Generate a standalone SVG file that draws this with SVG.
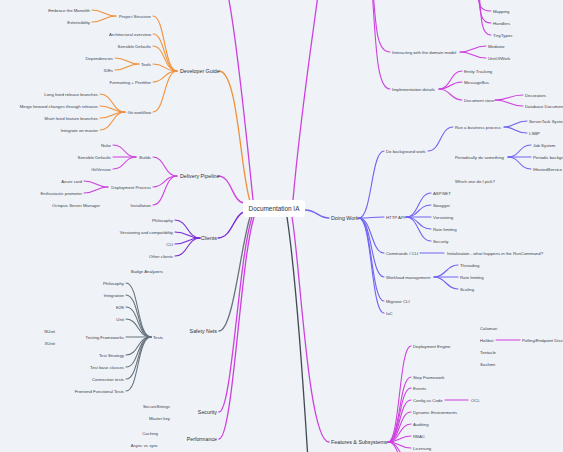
<svg xmlns="http://www.w3.org/2000/svg" width="563" height="452" viewBox="0 0 563 452">
<style>
text{font-family:"Liberation Sans",Arial,sans-serif;font-size:4.3px;fill:#3c4350}
.e{text-anchor:end}
.m{font-size:5.3px;fill:#2c323c}
.root{font-size:6.4px;fill:#2c323c;text-anchor:middle}
path{fill:none;stroke-width:1.1;stroke-linecap:round}
.or{stroke:#f0913a}
.mg{stroke:#cd40df}
.pu{stroke:#7a2ad6}
.gy{stroke:#66737f}
.dg{stroke:#3f4a55}
.bl{stroke:#6f62f2}
.main{stroke-width:1.3}
</style>
<rect width="563" height="452" fill="#eff2f6"/>
<g id="connectors">
<!-- center to branches -->
<path class="or main" d="M219,71 C238,71 240,170 250,201"/>
<path class="mg main" d="M218,176 C232,176 232,202 244,203"/>
<path class="pu main" d="M218,238 C232,238 234,214 244,212"/>
<path class="gy main" d="M219,331 C233,331 240,250 250,217"/>
<path class="mg main" d="M219,412 C232,412 238,262 252,217"/>
<path class="mg main" d="M219,439 C233,439 240,262 254,217"/>
<path class="mg main" d="M253,200 C245,120 235,30 228,-5"/>
<path class="mg main" d="M293,200 C300,120 312,40 318,-5"/>
<path class="bl main" d="M305,210 C317,210 318,218 329,218"/>
<path class="mg main" d="M292,217 C300,262 308,442 329,442"/>
<path class="dg main" d="M287,217 C295,270 303,380 308,460"/>
<!-- top right branch -->
<path class="mg" d="M373,-10 C376,30 377,52 390,52"/>
<path class="mg" d="M372,-10 C376,40 376,89 390,89"/>
<path class="mg" d="M460,52 C473,52 473,46 486,46"/>
<path class="mg" d="M460,52 C473,52 473,58 486,58"/>
<path class="mg" d="M439,89 C451,89 450,71 462,71"/>
<path class="mg" d="M439,89 C451,89 450,82 462,82"/>
<path class="mg" d="M439,89 C451,89 450,100 462,100"/>
<path class="mg" d="M495,100 C509,100 509,95 523,95"/>
<path class="mg" d="M495,100 C509,100 509,106 523,106"/>
<path class="mg" d="M477,-10 C479,6 480,11 491,11"/>
<path class="mg" d="M478,-10 C480,12 480,23 491,23"/>
<path class="mg" d="M479,-10 C481,18 481,35 491,35"/>
<!-- Developer Guide -->
<path class="or" d="M177,71 C164,71 165,16 153,16"/>
<path class="or" d="M177,71 C164,71 165,34 153,34"/>
<path class="or" d="M177,71 C164,71 165,46 153,46"/>
<path class="or" d="M177,71 C164,71 165,64 153,64"/>
<path class="or" d="M177,71 C164,71 165,82 153,82"/>
<path class="or" d="M177,71 C164,71 165,112 153,112"/>
<path class="or" d="M116,16 C104,16 104,10 92,10"/>
<path class="or" d="M116,16 C104,16 104,22 92,22"/>
<path class="or" d="M139,64 C127,64 127,58 115,58"/>
<path class="or" d="M139,64 C127,64 127,70 115,70"/>
<path class="or" d="M125,112 C112,112 113,94 100,94"/>
<path class="or" d="M125,112 C112,112 113,106 100,106"/>
<path class="or" d="M125,112 C112,112 113,118 100,118"/>
<path class="or" d="M125,112 C112,112 113,130 100,130"/>
<!-- Delivery Pipeline -->
<path class="mg" d="M177,176 C164,176 165,157 153,157"/>
<path class="mg" d="M177,176 C164,176 165,187 153,187"/>
<path class="mg" d="M177,176 C164,176 165,205 153,205"/>
<path class="mg" d="M136,157 C124,157 125,145 113,145"/>
<path class="mg" d="M136,157 L113,157"/>
<path class="mg" d="M136,157 C124,157 125,169 113,169"/>
<path class="mg" d="M108,187 C96,187 96,181 84,181"/>
<path class="mg" d="M108,187 C96,187 96,193 84,193"/>
<!-- Clients -->
<path class="pu" d="M200,238 C187,238 188,220 175,220"/>
<path class="pu" d="M200,238 C187,238 188,232 175,232"/>
<path class="pu" d="M200,238 C187,238 188,244 175,244"/>
<path class="pu" d="M200,238 C187,238 188,256 175,256"/>
<!-- Tests -->
<path class="gy" d="M151,337 C137,337 139,283 126,283"/>
<path class="gy" d="M151,337 C137,337 139,295 126,295"/>
<path class="gy" d="M151,337 C137,337 139,307 126,307"/>
<path class="gy" d="M151,337 C137,337 139,319 126,319"/>
<path class="gy" d="M151,337 L126,337"/>
<path class="gy" d="M151,337 C137,337 139,355 126,355"/>
<path class="gy" d="M151,337 C137,337 139,367 126,367"/>
<path class="gy" d="M151,337 C137,337 139,379 126,379"/>
<path class="gy" d="M151,337 C137,337 139,391 126,391"/>
<!-- Doing Work -->
<path class="bl" d="M359,218 C372,218 371,151 384,151"/>
<path class="bl" d="M359,218 C372,218 371,217 384,217"/>
<path class="bl" d="M359,218 C372,218 371,253 384,253"/>
<path class="bl" d="M359,218 C372,218 371,277 384,277"/>
<path class="bl" d="M359,218 C372,218 371,301 384,301"/>
<path class="bl" d="M359,218 C372,218 371,313 384,313"/>
<path class="bl" d="M428,151 C441,151 440,127 453,127"/>
<path class="bl" d="M504,127 C515,127 515,121 527,121"/>
<path class="bl" d="M504,127 C515,127 515,133 527,133"/>
<path class="bl" d="M508,157 C520,157 519,145 531,145"/>
<path class="bl" d="M508,157 L531,157"/>
<path class="bl" d="M508,157 C520,157 519,169 531,169"/>
<path class="bl" d="M406,217 C419,217 418,193 431,193"/>
<path class="bl" d="M406,217 C419,217 418,205 431,205"/>
<path class="bl" d="M406,217 L431,217"/>
<path class="bl" d="M406,217 C419,217 418,229 431,229"/>
<path class="bl" d="M406,217 C419,217 418,241 431,241"/>
<path class="bl" d="M420,253 L444,253"/>
<path class="bl" d="M434,277 C446,277 446,265 458,265"/>
<path class="bl" d="M434,277 L458,277"/>
<path class="bl" d="M434,277 C446,277 446,289 458,289"/>
<!-- Features -->
<path class="mg" d="M388,442 C400,442 399,346 411,346"/>
<path class="mg" d="M388,442 C400,442 399,377 411,377"/>
<path class="mg" d="M388,442 C400,442 399,388 411,388"/>
<path class="mg" d="M388,442 C400,442 399,400 411,400"/>
<path class="mg" d="M388,442 C400,442 399,412 411,412"/>
<path class="mg" d="M388,442 C400,442 399,424 411,424"/>
<path class="mg" d="M388,442 C400,442 399,436 411,436"/>
<path class="mg" d="M388,442 C400,442 399,448 411,448"/>
<path class="mg" d="M388,442 C400,442 399,460 411,460"/>
<path class="mg" d="M388,442 C400,442 399,472 411,472"/>
<path class="mg" d="M496,340 L520,340"/>
<path class="mg" d="M445,400 L468,400"/>
</g>
<g id="root"><rect x="243" y="200" width="62" height="17" rx="3" fill="#ffffff"/><text class="root" x="274" y="211">Documentation IA</text></g>
<g id="developer-guide"><text class="m" x="180" y="73">Developer Guide</text></g>
<g id="project-structure"><text class="e" x="151" y="17.5">Project Structure</text></g>
<g id="embrace-monolith"><text class="e" x="90" y="11.5">Embrace the Monolith</text></g>
<g id="extensibility"><text class="e" x="90" y="23.5">Extensibility</text></g>
<g id="architectural-overview"><text class="e" x="151" y="35.5">Architectural overview</text></g>
<g id="sensible-defaults-dg"><text class="e" x="151" y="47.5">Sensible Defaults</text></g>
<g id="tools"><text class="e" x="151" y="65.5">Tools</text></g>
<g id="dependencies"><text class="e" x="113" y="59.5">Dependencies</text></g>
<g id="ides"><text class="e" x="113" y="71.5">IDEs</text></g>
<g id="formatting"><text class="e" x="151" y="83.5">Formatting + Prettifier</text></g>
<g id="git-workflow"><text class="e" x="151" y="113.5">Git workflow</text></g>
<g id="long-lived"><text class="e" x="98" y="95.5">Long lived release branches</text></g>
<g id="merge-forward"><text class="e" x="98" y="107.5">Merge forward changes through releases</text></g>
<g id="short-lived"><text class="e" x="98" y="119.5">Short lived feature branches</text></g>
<g id="integrate-master"><text class="e" x="98" y="131.5">Integrate on master</text></g>
<g id="delivery-pipeline"><text class="m" x="180" y="178">Delivery Pipeline</text></g>
<g id="builds"><text class="e" x="151" y="158.5">Builds</text></g>
<g id="nuke"><text class="e" x="111" y="146.5">Nuke</text></g>
<g id="sensible-defaults-b"><text class="e" x="111" y="158.5">Sensible Defaults</text></g>
<g id="gitversion"><text class="e" x="111" y="170.5">GitVersion</text></g>
<g id="deployment-process"><text class="e" x="151" y="188.5">Deployment Process</text></g>
<g id="azure-card"><text class="e" x="82" y="182.5">Azure card</text></g>
<g id="enthusiastic-promoter"><text class="e" x="82" y="194.5">Enthusiastic promoter</text></g>
<g id="octopus-server-manager"><text class="e" x="100" y="206.5">Octopus Server Manager</text></g>
<g id="installation"><text class="e" x="151" y="206.5">Installation</text></g>
<g id="clients"><text class="m e" x="217" y="240">Clients</text></g>
<g id="philosophy-c"><text class="e" x="173" y="221.5">Philosophy</text></g>
<g id="versioning-compat"><text class="e" x="173" y="233.5">Versioning and compatibility</text></g>
<g id="cli"><text class="e" x="173" y="245.5">CLI</text></g>
<g id="other-clients"><text class="e" x="173" y="257.5">Other clients</text></g>
<g id="safety-nets"><text class="m e" x="217" y="333">Safety Nets</text></g>
<g id="badge-analyzers"><text class="e" x="163" y="272.5">Badge Analyzers</text></g>
<g id="tests"><text class="e" x="163" y="338.5">Tests</text></g>
<g id="philosophy-t"><text class="e" x="124" y="284.5">Philosophy</text></g>
<g id="integration"><text class="e" x="124" y="296.5">Integration</text></g>
<g id="e2e"><text class="e" x="124" y="308.5">E2E</text></g>
<g id="unit"><text class="e" x="124" y="320.5">Unit</text></g>
<g id="testing-frameworks"><text class="e" x="124" y="338.5">Testing Frameworks</text></g>
<g id="nunit"><text class="e" x="55" y="332.5">NUnit</text></g>
<g id="xunit"><text class="e" x="55" y="344.5">XUnit</text></g>
<g id="test-strategy"><text class="e" x="124" y="356.5">Test Strategy</text></g>
<g id="test-base-classes"><text class="e" x="124" y="368.5">Test base classes</text></g>
<g id="connection-tests"><text class="e" x="124" y="380.5">Connection tests</text></g>
<g id="frontend-functional"><text class="e" x="124" y="392.5">Frontend Functional Tests</text></g>
<g id="security"><text class="m e" x="217" y="414">Security</text></g>
<g id="securestrings"><text class="e" x="170" y="407.5">SecureStrings</text></g>
<g id="master-key"><text class="e" x="170" y="419.5">Master key</text></g>
<g id="performance"><text class="m e" x="217" y="441">Performance</text></g>
<g id="caching"><text class="e" x="158" y="434.5">Caching</text></g>
<g id="async-sync"><text class="e" x="158" y="446.5">Async vs sync</text></g>
<g id="interacting"><text x="392" y="53.5">Interacting with the domain model</text></g>
<g id="mediator"><text x="488" y="47.5">Mediator</text></g>
<g id="unitofwork"><text x="488" y="59.5">UnitOfWork</text></g>
<g id="implementation-details"><text x="392" y="90.5">Implementation details</text></g>
<g id="entity-tracking"><text x="464" y="72.5">Entity Tracking</text></g>
<g id="messagebus"><text x="464" y="83.5">MessageBus</text></g>
<g id="document-store"><text x="464" y="101.5">Document store</text></g>
<g id="decorators"><text x="525" y="96.5">Decorators</text></g>
<g id="database-documents"><text x="525" y="107.5">Database Documents</text></g>
<g id="mapping"><text x="493" y="12.5">Mapping</text></g>
<g id="handlers"><text x="493" y="24.5">Handlers</text></g>
<g id="tinytypes"><text x="493" y="36.5">TinyTypes</text></g>
<g id="doing-work"><text class="m" x="331" y="220">Doing Work</text></g>
<g id="do-background-work"><text x="386" y="152.5">Do background work</text></g>
<g id="run-business-process"><text x="455" y="128.5">Run a business process</text></g>
<g id="servertask-system"><text x="529" y="122.5">ServerTask System</text></g>
<g id="lsbp"><text x="529" y="134.5">LSBP</text></g>
<g id="periodically"><text x="455" y="158.5">Periodically do something</text></g>
<g id="job-system"><text x="533" y="146.5">Job System</text></g>
<g id="periodic-background"><text x="533" y="158.5">Periodic background</text></g>
<g id="ihostedservice"><text x="533" y="170.5">IHostedService</text></g>
<g id="which-one"><text x="455" y="182.5">Which one do I pick?</text></g>
<g id="http-api"><text x="386" y="218.5">HTTP API</text></g>
<g id="aspnet"><text x="433" y="194.5">ASP.NET</text></g>
<g id="swagger"><text x="433" y="206.5">Swagger</text></g>
<g id="versioning"><text x="433" y="218.5">Versioning</text></g>
<g id="rate-limiting-h"><text x="433" y="230.5">Rate limiting</text></g>
<g id="security-h"><text x="433" y="242.5">Security</text></g>
<g id="commands-cli"><text x="386" y="254.5">Commands / CLI</text></g>
<g id="initialization"><text x="447" y="254.5">Initialization - what happens in the RunCommand?</text></g>
<g id="workload-management"><text x="386" y="278.5">Workload management</text></g>
<g id="threading"><text x="460" y="266.5">Threading</text></g>
<g id="rate-limiting-w"><text x="460" y="278.5">Rate limiting</text></g>
<g id="scaling"><text x="460" y="290.5">Scaling</text></g>
<g id="migrator-cli"><text x="386" y="302.5">Migrator CLI</text></g>
<g id="iac"><text x="386" y="314.5">IaC</text></g>
<g id="features"><text class="m" x="331" y="444">Features &amp; Subsystems</text></g>
<g id="deployment-engine"><text x="413" y="347.5">Deployment Engine</text></g>
<g id="calamari"><text x="480" y="329.5">Calamari</text></g>
<g id="halibut"><text x="480" y="341.5">Halibut</text></g>
<g id="polling"><text x="522" y="341.5">Polling/Endpoint Discovery</text></g>
<g id="tentacle"><text x="480" y="353.5">Tentacle</text></g>
<g id="sashimi"><text x="480" y="365.5">Sashimi</text></g>
<g id="step-framework"><text x="413" y="378.5">Step Framework</text></g>
<g id="events"><text x="413" y="389.5">Events</text></g>
<g id="config-as-code"><text x="413" y="401.5">Config as Code</text></g>
<g id="ocl"><text x="471" y="401.5">OCL</text></g>
<g id="dynamic-environments"><text x="413" y="413.5">Dynamic Environments</text></g>
<g id="auditing"><text x="413" y="425.5">Auditing</text></g>
<g id="rbac"><text x="413" y="437.5">RBAC</text></g>
<g id="licensing"><text x="413" y="449.5">Licensing</text></g>
</svg>
